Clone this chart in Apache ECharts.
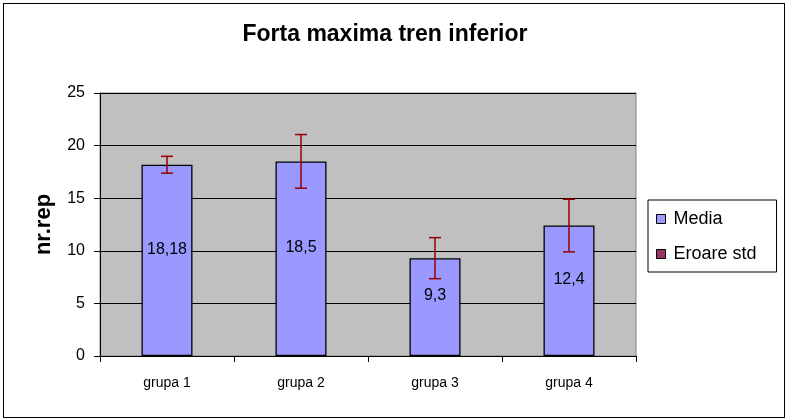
<!DOCTYPE html>
<html>
<head>
<meta charset="utf-8">
<script src="https://cdn.jsdelivr.net/npm/echarts@6/dist/echarts.min.js"></script>
<style>
  html, body { margin: 0; padding: 0; background: #fff; }
  #frame { position: absolute; left: 3px; top: 3px; width: 780px; height: 413px; border: 1px solid #000; }
  #chart { position: absolute; left: 0; top: 0; width: 787px; height: 420px; }
</style>
</head>
<body>
<div id="frame"></div>
<div id="chart"></div>
<script>
var categories = ['grupa 1', 'grupa 2', 'grupa 3', 'grupa 4'];
var media = [18.18, 18.5, 9.3, 12.4];
var eroareStd = [0.8, 2.55, 1.95, 2.5];
var mediaLabels = ['18,18', '18,5', '9,3', '12,4'];
var yTicks = [0, 5, 10, 15, 20, 25];

var font = 'Liberation Sans, Arial, sans-serif';

var errorData = media.map(function (m, i) {
    return [i, m - eroareStd[i], m + eroareStd[i]];
});

var chart = echarts.init(document.getElementById('chart'));

var option = {
    animation: false,
    backgroundColor: 'transparent',
    title: {
        text: 'Forta maxima tren inferior',
        left: 380,
        textAlign: 'center',
        top: 18,
        textStyle: { fontFamily: font, fontSize: 23, fontWeight: 'bold', color: '#000' }
    },
    legend: {
        orient: 'vertical',
        left: 648,
        top: 200,
        padding: [10, 20, 9, 8],
        itemGap: 17,
        itemWidth: 9,
        itemHeight: 9,
        icon: 'rect',
        borderColor: '#000',
        borderWidth: 1,
        backgroundColor: '#fff',
        textStyle: { fontFamily: font, fontSize: 18, color: '#000', padding: [0, 0, 0, 3] },
        data: [
            { name: 'Media', itemStyle: { color: '#9999ff', borderColor: '#000', borderWidth: 1 } },
            { name: 'Eroare std', itemStyle: { color: '#993366', borderColor: '#000', borderWidth: 1 } }
        ]
    },
    grid: {
        left: 100,
        top: 93,
        width: 536,
        height: 263,
        show: true,
        backgroundColor: '#c0c0c0',
        borderColor: '#808080',
        borderWidth: 1
    },
    xAxis: {
        type: 'category',
        data: categories,
        boundaryGap: true,
        axisLine: { lineStyle: { color: '#000', width: 1 } },
        axisTick: { show: true, length: 6, alignWithLabel: false, lineStyle: { color: '#000' } },
        axisLabel: { fontFamily: font, fontSize: 14, color: '#000', margin: 20 }
    },
    yAxis: {
        type: 'value',
        min: 0,
        max: 25,
        interval: 5,
        name: 'nr.rep',
        nameLocation: 'middle',
        nameGap: 45,
        nameRotate: 90,
        nameTextStyle: { fontFamily: font, fontSize: 22, fontWeight: 'bold', color: '#000' },
        axisLine: { show: true, lineStyle: { color: '#000', width: 1 } },
        axisTick: { show: true, length: 6, lineStyle: { color: '#000' } },
        axisLabel: {
            fontFamily: font, fontSize: 16, color: '#000', margin: 15,
            formatter: function (v) { return yTicks.indexOf(v) >= 0 ? String(v) : ''; }
        },
        splitLine: { show: true, lineStyle: { color: '#000', width: 1 } }
    },
    series: [
        {
            name: 'Media',
            type: 'bar',
            data: media,
            barWidth: 51,
            itemStyle: { color: '#9999ff', borderColor: '#000', borderWidth: 1.3 },
            label: {
                show: true,
                position: 'inside',
                offset: [0, -11],
                fontFamily: font,
                fontSize: 16,
                color: '#000',
                formatter: function (p) { return mediaLabels[p.dataIndex]; }
            },
            z: 2
        },
        {
            name: 'Eroare std',
            type: 'custom',
            data: errorData,
            itemStyle: { color: '#993366' },
            encode: { x: 0, y: [1, 2] },
            renderItem: function (params, api) {
                var x = api.value(0);
                var lo = api.coord([x, api.value(1)]);
                var hi = api.coord([x, api.value(2)]);
                var half = 6;
                var st = { stroke: '#990000', lineWidth: 1.5, fill: null };
                return {
                    type: 'group',
                    children: [
                        { type: 'line', shape: { x1: lo[0], y1: lo[1], x2: hi[0], y2: hi[1] }, style: st },
                        { type: 'line', shape: { x1: lo[0] - half, y1: lo[1], x2: lo[0] + half, y2: lo[1] }, style: st },
                        { type: 'line', shape: { x1: hi[0] - half, y1: hi[1], x2: hi[0] + half, y2: hi[1] }, style: st }
                    ]
                };
            },
            z: 5
        }
    ]
};

chart.setOption(option);
</script>
</body>
</html>
